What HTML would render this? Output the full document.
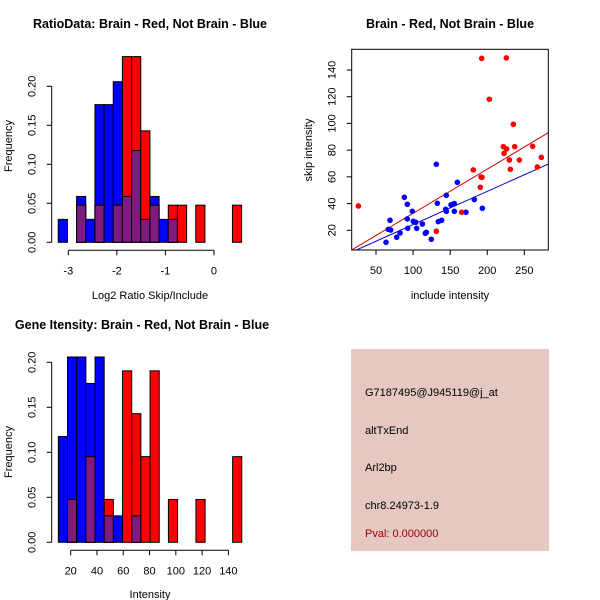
<!DOCTYPE html>
<html><head><meta charset="utf-8"><style>
html,body{margin:0;padding:0;background:#fff}
svg{display:block;font-family:"Liberation Sans",sans-serif}
</style></head><body>
<svg id="s" width="600" height="600">
<rect x="0" y="0" width="600" height="600" fill="#fff"/>
<text x="150" y="28" text-anchor="middle" font-weight="bold" font-size="12.5">RatioData: Brain - Red, Not Brain - Blue</text>
<text x="450" y="28" text-anchor="middle" font-weight="bold" font-size="12.5">Brain - Red, Not Brain - Blue</text>
<text x="142" y="329" text-anchor="middle" font-weight="bold" font-size="12.5">Gene Itensity: Brain - Red, Not Brain - Blue</text>
<text x="150" y="299" text-anchor="middle" font-size="11">Log2 Ratio Skip/Include</text>
<text x="0" y="0" transform="translate(12,146) rotate(-90)" text-anchor="middle" font-size="11">Frequency</text>
<text x="450" y="299" text-anchor="middle" font-size="11">include intensity</text>
<text x="0" y="0" transform="translate(312,150) rotate(-90)" text-anchor="middle" font-size="11">skip intensity</text>
<text x="150" y="598" text-anchor="middle" font-size="11">Intensity</text>
<text x="0" y="0" transform="translate(12,452) rotate(-90)" text-anchor="middle" font-size="11">Frequency</text>
<g>
<rect x="351" y="349" width="198" height="202" fill="#e5c8c1"/>
<text x="365" y="396" font-size="11">G7187495@J945119@j_at</text>
<text x="365" y="434" font-size="11">altTxEnd</text>
<text x="365" y="471" font-size="11">Arl2bp</text>
<text x="365" y="509" font-size="11">chr8.24973-1.9</text>
<text x="365" y="537" font-size="11" fill="#9b0000">Pval: 0.000000</text>
</g>
</svg>
<script>
// Ratio histogram data
const ratioBinStart = -3.207, ratioBinWidth = 0.1888;
const ratioBlue = [0.0294,0,0.0588,0.0294,0.1765,0.1765,0.2059,0.0588,0.1176,0.0294,0.0588,0.0294,0.0294,0,0,0,0,0,0,0];
const ratioRed  = [0,0,0.0476,0,0.0476,0,0.0476,0.2381,0.2381,0.1429,0.0476,0,0.0476,0.0476,0,0.0476,0,0,0,0.0476];
const ratioXTicks = [-3,-2,-1,0];
const freqTicks = ["0.00","0.05","0.10","0.15","0.20"];
// Intensity histogram data
const intBinStart = 10.6, intBinWidth = 6.98;
const intBlue = [0.1176,0.2059,0.2059,0.1765,0.2059,0.0294,0.0294,0,0.0294,0,0,0,0,0,0,0,0,0,0,0];
const intRed  = [0,0.0476,0,0.0952,0,0.0476,0,0.1905,0.1429,0.0952,0.1905,0,0.0476,0,0,0.0476,0,0,0,0.0952];
const intXTicks = [20,40,60,80,100,120,140];
// Scatter data
const blueX = [63.5,66.6,68.9,69.8,77.9,82.4,88.2,92.2,92.2,92.7,99.0,100.3,103.5,104.8,112.5,116.5,117.9,124.6,131.3,132.7,134.0,138.5,143.9,144.8,144.8,151.1,153.4,155.6,155.6,159.7,171.3,182.6,193.4];
const blueY = [11.0,20.7,27.5,20.2,14.8,18.0,44.7,39.5,28.5,21.5,34.2,26.7,26.0,21.5,24.7,17.8,18.5,13.3,69.4,40.2,26.5,27.5,35.7,34.2,46.2,39.0,39.5,40.0,34.2,55.9,33.5,43.0,36.5];
const redX = [26.2,131.3,165.5,181.2,190.7,191.6,192.9,192.5,202.8,221.7,222.6,225.7,226.2,229.8,231.1,235.2,237.0,243.3,261.2,267.5,272.9];
const redY = [38.2,19.3,33.5,65.2,52.2,59.9,59.7,148.7,118.1,82.6,77.6,149.0,80.9,72.6,65.7,99.3,82.6,72.6,82.9,67.4,74.6];
const redFit = [-0.4,0.331];
const blueFit = [-0.6,0.2487];
const scXTicks = [50,100,150,200,250];
const scYTicks = [20,40,60,80,100,120,140];

const svg = document.getElementById('s');
const NS = 'http://www.w3.org/2000/svg';
function mk(tag, at, parent){const e=document.createElementNS(NS,tag);for(const k in at)e.setAttribute(k,at[k]);(parent||svg).appendChild(e);return e;}

function hist(opts){
  const g = mk('g',{});
  
  
  const X = v => opts.x0px + (v - opts.x0v) * opts.xs;
  const Y = v => opts.y0px - v * opts.ys;
  for(let i=0;i<opts.blue.length;i++){
    const a = opts.binStart + i*opts.binWidth, b = a + opts.binWidth;
    const layers = [[opts.blue[i],'#0000ff','blue'],[opts.red[i],'#ff0000','red'],[Math.min(opts.blue[i],opts.red[i]),'#7f1a80','overlap']];
    for(const [v,c,n] of layers){
      if(v<=0) continue;
      const r = mk('rect',{x:X(a),y:Y(v),width:X(b)-X(a),height:Y(0)-Y(v),fill:c,stroke:'#000','stroke-width':1},g);
      
      
    }
  }
  const xa = opts.y0px + 8;
  mk('line',{x1:X(opts.xTicks[0]),x2:X(opts.xTicks[opts.xTicks.length-1]),y1:xa,y2:xa,stroke:'#000'},g);
  for(const t of opts.xTicks){
    mk('line',{x1:X(t),x2:X(t),y1:xa,y2:xa+5,stroke:'#000'},g);
    const tx = mk('text',{x:X(t),y:xa+24,'text-anchor':'middle','font-size':11},g);
    tx.textContent = t;
    
    
  }
  const ya = 51.7;
  mk('line',{x1:ya,x2:ya,y1:Y(0),y2:Y(0.2),stroke:'#000'},g);
  for(const t of freqTicks){
    const v = parseFloat(t);
    mk('line',{x1:ya-5,x2:ya,y1:Y(v),y2:Y(v),stroke:'#000'},g);
    const tx = mk('text',{x:0,y:0,transform:`translate(${ya-16},${Y(v)}) rotate(-90)`,'text-anchor':'middle','font-size':11},g);
    tx.textContent = t;
    
    
  }
}
hist({name:'ratio-histogram',blue:ratioBlue,red:ratioRed,binStart:ratioBinStart,binWidth:ratioBinWidth,x0px:68.3,x0v:-3,xs:48.56,y0px:242.3,ys:780,xTicks:ratioXTicks});
hist({name:'intensity-histogram',blue:intBlue,red:intRed,binStart:intBinStart,binWidth:intBinWidth,x0px:70.7,x0v:20,xs:1.314,y0px:542.3,ys:900,xTicks:intXTicks});

(function(){
  const g = mk('g',{});
  
  
  const X = v => 376 + (v-50)*0.7417;
  const Y = v => 230.3 - (v-20)*1.336;
  const L=351.7,R=548.3,T=49.3,B=250;
  mk('clipPath',{id:'cp'},g); mk('rect',{x:L,y:T,width:R-L,height:B-T},document.getElementById('cp'));
  const fits=[[redFit,'#cc0000','red-fit-line'],[blueFit,'#0000cc','blue-fit-line']];
  for(const [f,c,n] of fits){
    const x1v=(L-376)/0.7417+50, x2v=(R-376)/0.7417+50;
    const ln = mk('line',{x1:L,x2:R,y1:Y(f[0]+f[1]*x1v),y2:Y(f[0]+f[1]*x2v),stroke:c,'stroke-width':1,'clip-path':'url(#cp)'},g);
    
    
  }
  for(let i=0;i<blueX.length;i++){
    const p = mk('circle',{cx:X(blueX[i]),cy:Y(blueY[i]),r:2.8,fill:'#0000ff'},g);
    
    
  }
  for(let i=0;i<redX.length;i++){
    const p = mk('circle',{cx:X(redX[i]),cy:Y(redY[i]),r:2.8,fill:'#ff0000'},g);
    
    
  }
  mk('rect',{x:L,y:T,width:R-L,height:B-T,fill:'none',stroke:'#000'},g);
  for(const t of scXTicks){
    mk('line',{x1:X(t),x2:X(t),y1:B,y2:B+5,stroke:'#000'},g);
    const tx = mk('text',{x:X(t),y:B+24,'text-anchor':'middle','font-size':11},g);
    tx.textContent=t;
    
    
  }
  for(const t of scYTicks){
    mk('line',{x1:L-5,x2:L,y1:Y(t),y2:Y(t),stroke:'#000'},g);
    const tx = mk('text',{x:0,y:0,transform:`translate(${L-16},${Y(t)}) rotate(-90)`,'text-anchor':'middle','font-size':11},g);
    tx.textContent=t;
    
    
  }
})();
</script>
</body></html>
